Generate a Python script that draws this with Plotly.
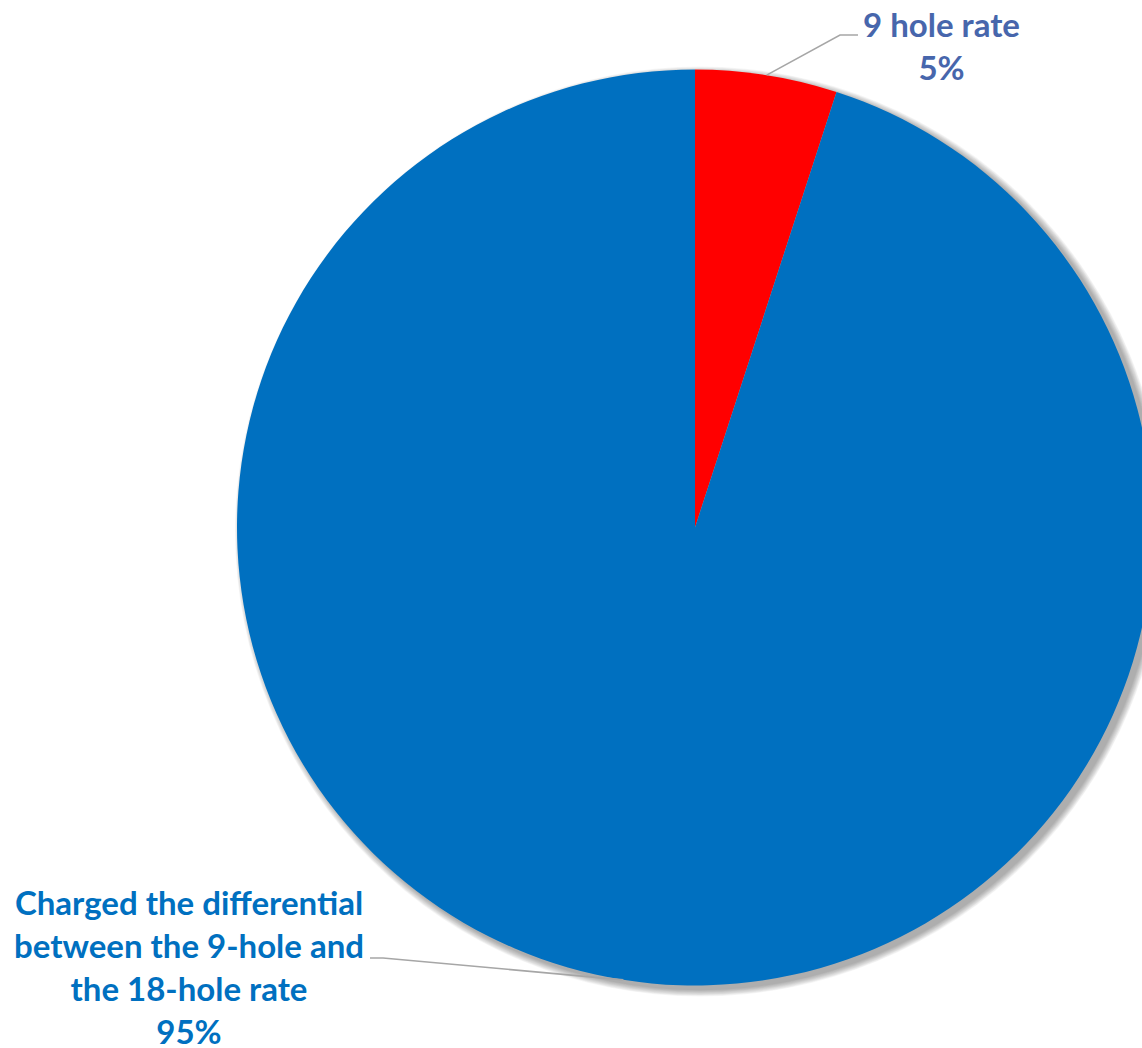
import math
import plotly.graph_objects as go

# Share of golfers by how the second nine was charged
categories = ["9 hole rate", "Charged the differential<br>between the 9-hole and<br>the 18-hole rate"]
values = [5, 95]
slice_colors = ["#FF0000", "#0070C0"]
label_colors = ["#4766AC", "#0070C0"]

W, H = 1180, 1048
cx, cy, r = 695.0, 527.5, 458.0


def px_x(x):
    return x / W


def px_y(y):
    return 1 - y / H


def domain_for(cx_, cy_, r_):
    return dict(x=[px_x(cx_ - r_), px_x(cx_ + r_)], y=[px_y(cy_ + r_), px_y(cy_ - r_)])


fig = go.Figure()

# soft outer shadow behind the pie, offset toward the lower right
for k in range(1, 11):
    fig.add_trace(go.Pie(
        values=[1], labels=["shadow"], sort=False,
        marker=dict(colors=["rgba(0,0,0,0.035)"], line=dict(width=0)),
        textinfo="none", hoverinfo="skip", showlegend=False,
        domain=domain_for(cx + 5.0, cy + 4.0, r + k * 0.7),
    ))

fig.add_trace(go.Pie(
    values=values, labels=categories, sort=False, direction="clockwise", rotation=0,
    marker=dict(colors=slice_colors, line=dict(width=0)),
    textinfo="none", showlegend=False,
    domain=domain_for(cx, cy, r),
))

total = sum(values)
pcts = [v / total * 100 for v in values]

# mid-angle of each slice (clockwise from 12 o'clock), used to anchor leader lines
mids = []
acc = 0.0
for v in values:
    mids.append((acc + v / 2) / total * 2 * math.pi)
    acc += v


def edge_point(theta):
    return cx + r * math.sin(theta), cy - r * math.cos(theta)


font_family = "Lato, 'Open Sans', sans-serif"
line_style = dict(color="#A6A6A6", width=1.6)

# 9 hole rate label (upper right)
ex, ey = edge_point(mids[0])
fig.add_shape(type="path", xref="paper", yref="paper",
              path=f"M {px_x(ex)} {px_y(ey)} L {px_x(840)} {px_y(35)} L {px_x(858)} {px_y(35)}",
              line=line_style)
fig.add_annotation(xref="paper", yref="paper", x=px_x(941), y=px_y(46),
                   text=f"<b>{categories[0]}<br>{pcts[0]:.0f}%</b>",
                   showarrow=False, align="center", xanchor="center", yanchor="middle",
                   font=dict(family=font_family, size=33, color=label_colors[0]))

# differential label (lower left)
ex, ey = edge_point(mids[1])
fig.add_shape(type="path", xref="paper", yref="paper",
              path=f"M {px_x(370)} {px_y(958)} L {px_x(383)} {px_y(958)} L {px_x(ex)} {px_y(ey)}",
              line=line_style)
fig.add_annotation(xref="paper", yref="paper", x=px_x(189), y=px_y(966),
                   text=f"<b>{categories[1]}<br>{pcts[1]:.0f}%</b>",
                   showarrow=False, align="center", xanchor="center", yanchor="middle",
                   font=dict(family=font_family, size=33, color=label_colors[1]))

fig.update_layout(
    width=W, height=H, autosize=False,
    margin=dict(l=0, r=0, t=0, b=0),
    paper_bgcolor="white", plot_bgcolor="white",
)

fig.write_html("out.html",
               post_script="document.documentElement.style.overflow='hidden';document.body.style.overflow='hidden';")
